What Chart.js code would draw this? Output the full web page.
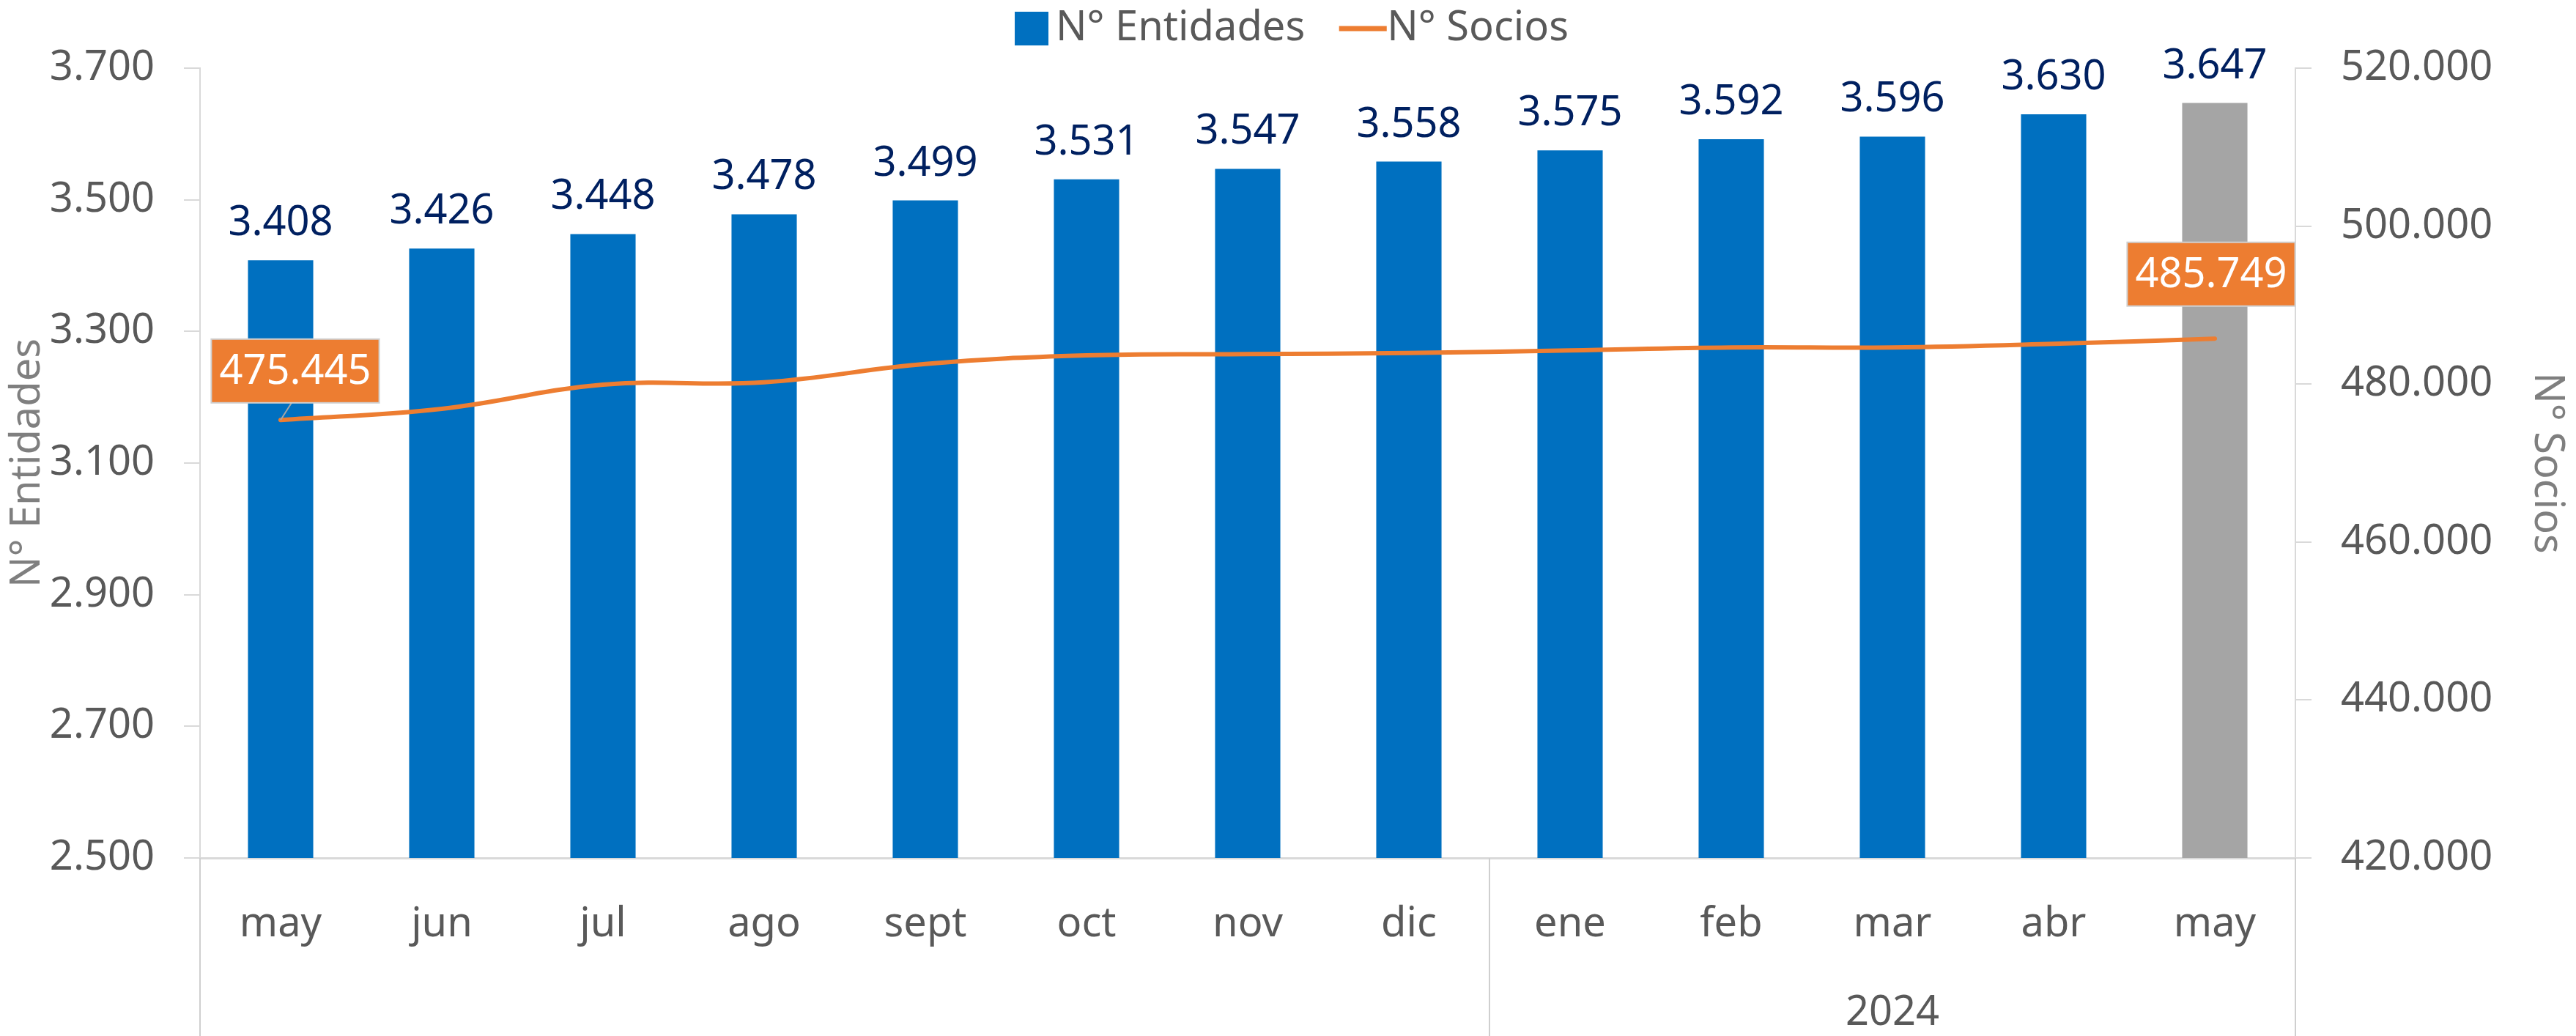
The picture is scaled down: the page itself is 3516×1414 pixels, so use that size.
<!DOCTYPE html>
<html lang="es">
<head>
<meta charset="utf-8">
<title>N° Entidades y N° Socios</title>
<script src="https://cdn.jsdelivr.net/npm/chart.js@4.4.1/dist/chart.umd.min.js"></script>
<style>
  html, body { margin: 0; padding: 0; background: #ffffff; }
  #wrap { width: 3516px; height: 1414px; position: relative; }
</style>
</head>
<body>
<div id="wrap"><canvas id="chart"></canvas></div>
<script>
// ─── Data ────────────────────────────────────────────────────────────────────
const months = ['may', 'jun', 'jul', 'ago', 'sept', 'oct', 'nov', 'dic', 'ene', 'feb', 'mar', 'abr', 'may'];
const yearLabels = ['', '', '', '', '', '', '', '', '', '', '2024', '', ''];
const entidades = [3408, 3426, 3448, 3478, 3499, 3531, 3547, 3558, 3575, 3592, 3596, 3630, 3647];
const socios = [475445, 476870, 479920, 480230, 482550, 483630, 483790, 483940, 484260, 484630, 484630, 485090, 485749];
const entidadesTicks = [2500, 2700, 2900, 3100, 3300, 3500, 3700];
const sociosTicks = [420000, 440000, 460000, 480000, 500000, 520000];

const BLUE = '#0070C0';
const GRAY_BAR = '#A5A5A5';
const ORANGE = '#ED7D31';
const NAVY = '#002060';
const TEXT = '#595959';
const AXIS = '#D9D9D9';
const FONT = "'Noto Sans', sans-serif";

Chart.defaults.font.family = FONT;
Chart.defaults.font.size = 56;
Chart.defaults.color = TEXT;

// thousands with dot, as in the source
const fmt = v => String(v).replace(/\B(?=(\d{3})+(?!\d))/g, '.');

// ─── Value labels (bars on top, first/last boxed label on the line) ─────────
const valueLabels = {
    id: 'valueLabels',
    afterDatasetsDraw(chart) {
        const ctx = chart.ctx;
        ctx.save();
        ctx.font = `56px ${FONT}`;
        ctx.textAlign = 'center';
        ctx.textBaseline = 'middle';

        ctx.fillStyle = NAVY;
        chart.getDatasetMeta(0).data.forEach((bar, i) => {
            ctx.fillText(fmt(entidades[i]), bar.x, bar.y - 50);
        });

        const pts = chart.getDatasetMeta(1).data;
        const last = socios.length - 1;
        [[0, 20, -67], [last, -5, -88]].forEach(([i, dx, dy]) => {
            const p = pts[i];
            const text = fmt(socios[i]);
            const w = ctx.measureText(text).width + 22;
            const h = 87;
            const cx = p.x + dx, cy = p.y + dy;
            if (i === 0) {
                ctx.strokeStyle = '#A6A6A6';
                ctx.lineWidth = 2;
                ctx.beginPath();
                ctx.moveTo(cx - 5, cy + h / 2);
                ctx.lineTo(p.x, p.y);
                ctx.stroke();
            }
            ctx.fillStyle = ORANGE;
            ctx.fillRect(cx - w / 2, cy - h / 2, w, h);
            ctx.strokeStyle = '#D0D0D0';
            ctx.lineWidth = 2;
            ctx.strokeRect(cx - w / 2, cy - h / 2, w, h);
            ctx.fillStyle = '#ffffff';
            ctx.fillText(text, cx, cy + 2);
        });
        ctx.restore();
    }
};

// ─── Category group separators below the x axis (edges + between dic/ene) ────
const groupLines = {
    id: 'groupLines',
    afterDraw(chart) {
        const x = chart.scales.x;
        const ctx = chart.ctx;
        const mid = (x.getPixelForTick(7) + x.getPixelForTick(8)) / 2;
        ctx.save();
        ctx.strokeStyle = '#CFCFCF';
        ctx.lineWidth = 2;
        [x.left, mid, x.right].forEach(px => {
            ctx.beginPath();
            ctx.moveTo(px, chart.chartArea.bottom);
            ctx.lineTo(px, chart.height);
            ctx.stroke();
        });
        ctx.restore();
    }
};

// legend row sits a bit higher than Chart.js would put it
const legendNudge = {
    id: 'legendNudge',
    afterLayout(chart) {
        chart.legend.top -= 16;
        chart.legend.bottom -= 16;
    }
};

new Chart(document.getElementById('chart'), {
    type: 'bar',
    data: {
        labels: months,
        datasets: [
            {
                label: 'N° Entidades',
                data: entidades,
                backgroundColor: entidades.map((_, i) => i === entidades.length - 1 ? GRAY_BAR : BLUE),
                barPercentage: 0.405,
                categoryPercentage: 1.0,
                xAxisID: 'x',
                yAxisID: 'y',
                order: 1,
            },
            {
                type: 'line',
                label: 'N° Socios',
                data: socios,
                borderColor: ORANGE,
                backgroundColor: ORANGE,
                borderWidth: 6,
                borderCapStyle: 'round',
                tension: 0.4,
                pointRadius: 0,
                xAxisID: 'x',
                yAxisID: 'y1',
                order: 0,
            }
        ]
    },
    options: {
        responsive: true,
        maintainAspectRatio: false,
        animation: false,
        layout: { padding: { top: -64, left: 28, right: 0, bottom: 6 } },
        plugins: {
            legend: {
                position: 'top',
                labels: {
                    usePointStyle: true,
                    boxHeight: 46,
                    boxWidth: 10,
                    padding: 74,
                    color: TEXT,
                    font: { size: 56 },
                    generateLabels: chart => chart.data.datasets.map((ds, i) => ({
                        text: ds.label,
                        datasetIndex: i,
                        fillStyle: ds.type === 'line' ? ORANGE : BLUE,
                        strokeStyle: ds.type === 'line' ? ORANGE : BLUE,
                        lineWidth: ds.type === 'line' ? 7 : 0,
                        pointStyle: ds.type === 'line' ? 'line' : 'rect',
                        fontColor: TEXT,
                        hidden: false,
                    })),
                },
            },
            tooltip: { enabled: false },
        },
        scales: {
            x: {
                position: 'bottom',
                weight: 0,
                offset: true,
                grid: { display: false, drawTicks: false },
                border: { color: AXIS, width: 3 },
                ticks: { color: TEXT, padding: 57, autoSkip: false, maxRotation: 0 },
                afterFit: s => { s.height = 124; },
            },
            x2: {
                type: 'category',
                position: 'bottom',
                weight: 1,
                labels: yearLabels,
                offset: true,
                grid: { display: false, drawTicks: false },
                border: { display: false },
                ticks: { color: TEXT, padding: 54, autoSkip: false, maxRotation: 0 },
                afterFit: s => { s.height = 113; },
            },
            y: {
                position: 'left',
                min: entidadesTicks[0],
                max: entidadesTicks[entidadesTicks.length - 1],
                afterBuildTicks: s => { s.ticks = entidadesTicks.map(v => ({ value: v })); },
                grid: { drawOnChartArea: false, tickLength: 22, lineWidth: 2, color: AXIS },
                border: { color: AXIS, width: 2 },
                ticks: { color: TEXT, padding: 40, callback: v => fmt(v) },
                title: {
                    display: true,
                    text: 'N° Entidades',
                    color: '#7F7F7F',
                    font: { size: 56 },
                    padding: { top: -24, bottom: 0 },
                },
                // keep the plot top at the 3.700 line, below the legend row
                afterFit: s => { s.width = 245; s.paddingTop = 93; },
            },
            y1: {
                position: 'right',
                min: sociosTicks[0],
                max: sociosTicks[sociosTicks.length - 1],
                afterBuildTicks: s => { s.ticks = sociosTicks.map(v => ({ value: v })); },
                grid: { drawOnChartArea: false, tickLength: 22, lineWidth: 2, color: AXIS },
                border: { color: AXIS, width: 2 },
                ticks: { color: TEXT, padding: 40, callback: v => fmt(v) },
                title: {
                    display: true,
                    text: 'N° Socios',
                    color: '#7F7F7F',
                    font: { size: 56 },
                    padding: { top: 6, bottom: 40 },
                },
                afterFit: s => { s.width = 383; },
            },
        },
    },
    plugins: [valueLabels, groupLines, legendNudge],
});
</script>
</body>
</html>
